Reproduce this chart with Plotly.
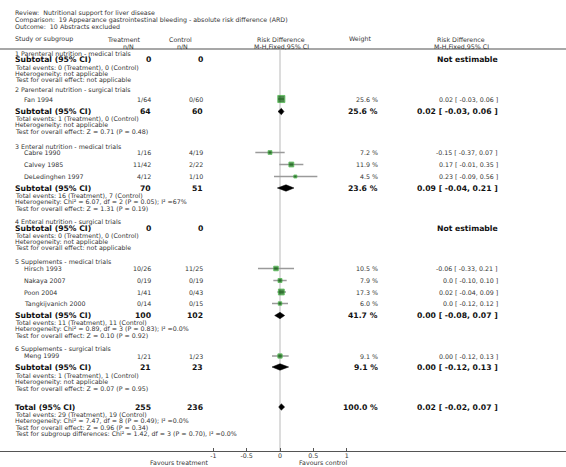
import plotly.graph_objects as go

# ---------------- data ----------------
review_text = "Review:  Nutritional support for liver disease"
comparison_text = "Comparison:  19 Appearance gastrointestinal bleeding - absolute risk difference (ARD)"
outcome_text = "Outcome:  10 Abstracts excluded"

subgroup_names = [
    "1 Parenteral nutrition - medical trials",
    "2 Parenteral nutrition - surgical trials",
    "3 Enteral nutrition - medical trials",
    "4 Enteral nutrition - surgical trials",
    "5 Supplements - medical trials",
    "6 Supplements - surgical trials",
]
subgroup_treat_total = [0, 64, 70, 0, 100, 21]
subgroup_ctrl_total = [0, 60, 51, 0, 102, 23]
subgroup_weight = [None, 25.6, 23.6, None, 41.7, 9.1]
subgroup_rd = [None, 0.02, 0.09, None, 0.00, 0.00]
subgroup_lo = [None, -0.03, -0.04, None, -0.08, -0.12]
subgroup_hi = [None, 0.06, 0.21, None, 0.07, 0.13]
subgroup_events = [
    "Total events: 0 (Treatment), 0 (Control)",
    "Total events: 1 (Treatment), 0 (Control)",
    "Total events: 16 (Treatment), 7 (Control)",
    "Total events: 0 (Treatment), 0 (Control)",
    "Total events: 11 (Treatment), 11 (Control)",
    "Total events: 1 (Treatment), 1 (Control)",
]
subgroup_heterogeneity = [
    "Heterogeneity: not applicable",
    "Heterogeneity: not applicable",
    "Heterogeneity: Chi² = 6.07, df = 2 (P = 0.05); I² =67%",
    "Heterogeneity: not applicable",
    "Heterogeneity: Chi² = 0.89, df = 3 (P = 0.83); I² =0.0%",
    "Heterogeneity: not applicable",
]
subgroup_overall = [
    "Test for overall effect: not applicable",
    "Test for overall effect: Z = 0.71 (P = 0.48)",
    "Test for overall effect: Z = 1.31 (P = 0.19)",
    "Test for overall effect: not applicable",
    "Test for overall effect: Z = 0.10 (P = 0.92)",
    "Test for overall effect: Z = 0.07 (P = 0.95)",
]

study_names = ["Fan 1994", "Cabre 1990", "Calvey 1985", "DeLedinghen 1997",
               "Hirsch 1993", "Nakaya 2007", "Poon 2004", "Tangkijvanich 2000",
               "Meng 1999"]
study_subgroup = [1, 2, 2, 2, 4, 4, 4, 4, 5]
study_treat = ["1/64", "1/16", "11/42", "4/12", "10/26", "0/19", "1/41", "0/14", "1/21"]
study_ctrl = ["0/60", "4/19", "2/22", "1/10", "11/25", "0/19", "0/43", "0/15", "1/23"]
study_weight = [25.6, 7.2, 11.9, 4.5, 10.5, 7.9, 17.3, 6.0, 9.1]
study_rd = [0.02, -0.15, 0.17, 0.23, -0.06, 0.0, 0.02, 0.0, 0.00]
study_rd_label = ["0.02", "-0.15", "0.17", "0.23", "-0.06", "0.0", "0.02", "0.0", "0.00"]
study_lo = [-0.03, -0.37, -0.01, -0.09, -0.33, -0.10, -0.04, -0.12, -0.12]
study_hi = [0.06, 0.07, 0.35, 0.56, 0.21, 0.10, 0.09, 0.12, 0.13]

total_label = "Total (95% CI)"
total_treat = 255
total_ctrl = 236
total_weight = 100.0
total_rd = 0.02
total_lo = -0.02
total_hi = 0.07
total_lines = [
    "Total events: 29 (Treatment), 19 (Control)",
    "Heterogeneity: Chi² = 7.47, df = 8 (P = 0.49); I² =0.0%",
    "Test for overall effect: Z = 0.96 (P = 0.34)",
    "Test for subgroup differences: Chi² = 1.42, df = 3 (P = 0.70), I² =0.0%",
]

axis_ticks = [-1, -0.5, 0, 0.5, 1]
axis_tick_labels = ["-1", "-0.5", "0", "0.5", "1"]
favours_left = "Favours treatment"
favours_right = "Favours control"

# ---------------- layout ----------------
W, H = 566, 467
PLOT_BOTTOM = 451
ZERO_PX = 280
PX_PER_UNIT = 66.7
X_RANGE = [-ZERO_PX / PX_PER_UNIT, (W - ZERO_PX) / PX_PER_UNIT]

FONT = "DejaVu Sans"
SMALL = 6.3
BOLD = 7.7
TXT = "#333333"
BTXT = "#111111"

X_LEFT = 13
X_STUDY = 22
X_TREAT_R = 153
X_CTRL_R = 205
X_FOREST_C = 281
X_WEIGHT_R = 380
X_EFFECT_R = 500

subgroup_title_y = [53, 89.5, 146, 221.5, 262, 349]
study_y = [99, 152.5, 164.5, 176.5, 268.5, 280.5, 292, 303.5, 356]
subtotal_y = [59.5, 111.5, 188, 228, 315.5, 367]
info_first_y = [67, 118.5, 195, 235, 322, 375]
total_y = 407
total_info_first_y = 414
INFO_STEP = 6.7
DIAMOND_HALF = 3.2

annotations = []


def txt(xp, yp, s, anchor="left", size=SMALL, bold=False, color=TXT, yref="y"):
    if bold:
        s = "<b>" + s + "</b>"
    annotations.append(dict(
        x=xp / W, xref="paper", y=yp, yref=yref, text=s, xanchor=anchor,
        yanchor="middle", showarrow=False,
        font=dict(family=FONT, size=size, color=color)))


def ci_text(est_label, lo, hi):
    return f"{est_label} [ {lo:.2f}, {hi:.2f} ]"


# header
txt(X_LEFT, 12.5, review_text)
txt(X_LEFT, 19.5, comparison_text)
txt(X_LEFT, 26.5, outcome_text)
txt(X_LEFT, 39, "Study or subgroup")
txt(124, 39, "Treatment", anchor="center")
txt(128, 46, "n/N", anchor="center")
txt(180, 39, "Control", anchor="center")
txt(182, 46, "n/N", anchor="center")
txt(X_FOREST_C, 39, "Risk Difference", anchor="center")
txt(X_FOREST_C, 46, "M-H,Fixed,95% CI", anchor="center")
txt(360, 39, "Weight", anchor="center")
txt(461, 39, "Risk Difference", anchor="center")
txt(461, 46, "M-H,Fixed,95% CI", anchor="center")

fig = go.Figure()

# subgroups
for g, name in enumerate(subgroup_names):
    txt(X_LEFT, subgroup_title_y[g], name)
    ys = subtotal_y[g]
    txt(X_LEFT, ys, "Subtotal (95% CI)", size=BOLD, bold=True, color=BTXT)
    txt(X_TREAT_R, ys, str(subgroup_treat_total[g]), anchor="right", size=BOLD, bold=True, color=BTXT)
    txt(X_CTRL_R, ys, str(subgroup_ctrl_total[g]), anchor="right", size=BOLD, bold=True, color=BTXT)
    if subgroup_rd[g] is None:
        txt(X_EFFECT_R, ys, "Not estimable", anchor="right", size=BOLD, bold=True, color=BTXT)
    else:
        txt(X_WEIGHT_R, ys, f"{subgroup_weight[g]:.1f} %", anchor="right", size=BOLD, bold=True, color=BTXT)
        txt(X_EFFECT_R, ys, ci_text(f"{subgroup_rd[g]:.2f}", subgroup_lo[g], subgroup_hi[g]),
            anchor="right", size=BOLD, bold=True, color=BTXT)
        fig.add_trace(go.Scatter(
            x=[subgroup_lo[g], subgroup_rd[g], subgroup_hi[g], subgroup_rd[g], subgroup_lo[g]],
            y=[ys, ys - DIAMOND_HALF, ys, ys + DIAMOND_HALF, ys],
            mode="lines", fill="toself", fillcolor="#000000",
            line=dict(color="#000000", width=0.5), hoverinfo="skip", showlegend=False))
    for k, line in enumerate([subgroup_events[g], subgroup_heterogeneity[g], subgroup_overall[g]]):
        txt(X_LEFT, info_first_y[g] + k * INFO_STEP, line)

# studies
ci_x, ci_y = [], []
for i, name in enumerate(study_names):
    y = study_y[i]
    txt(X_STUDY, y, name)
    txt(X_TREAT_R, y, study_treat[i], anchor="right")
    txt(X_CTRL_R, y, study_ctrl[i], anchor="right")
    txt(X_WEIGHT_R, y, f"{study_weight[i]:.1f} %", anchor="right")
    txt(X_EFFECT_R, y, ci_text(study_rd_label[i], study_lo[i], study_hi[i]), anchor="right")
    ci_x += [study_lo[i], study_hi[i], None]
    ci_y += [y, y, None]

fig.add_trace(go.Scatter(x=ci_x, y=ci_y, mode="lines",
                         line=dict(color="#9a9a9a", width=1.5),
                         hoverinfo="skip", showlegend=False))
fig.add_trace(go.Scatter(
    x=study_rd, y=study_y, mode="markers",
    marker=dict(symbol="square", size=[1.4 * w ** 0.5 for w in study_weight],
                color="#005a00", line=dict(color="#22a522", width=0.9)),
    hoverinfo="skip", showlegend=False))

# total
txt(X_LEFT, total_y, total_label, size=BOLD, bold=True, color=BTXT)
txt(X_TREAT_R, total_y, str(total_treat), anchor="right", size=BOLD, bold=True, color=BTXT)
txt(X_CTRL_R, total_y, str(total_ctrl), anchor="right", size=BOLD, bold=True, color=BTXT)
txt(X_WEIGHT_R, total_y, f"{total_weight:.1f} %", anchor="right", size=BOLD, bold=True, color=BTXT)
txt(X_EFFECT_R, total_y, ci_text(f"{total_rd:.2f}", total_lo, total_hi), anchor="right",
    size=BOLD, bold=True, color=BTXT)
fig.add_trace(go.Scatter(
    x=[total_lo, total_rd, total_hi, total_rd, total_lo],
    y=[total_y, total_y - DIAMOND_HALF, total_y, total_y + DIAMOND_HALF, total_y],
    mode="lines", fill="toself", fillcolor="#000000",
    line=dict(color="#000000", width=0.5), hoverinfo="skip", showlegend=False))
for k, line in enumerate(total_lines):
    txt(X_LEFT, total_info_first_y + k * INFO_STEP, line)

# favours labels
fav_y = (PLOT_BOTTOM - 462.5) / PLOT_BOTTOM
txt(210, fav_y, favours_left, anchor="right", yref="paper")
txt(297, fav_y, favours_right, anchor="left", yref="paper")

shapes = [
    # header separator
    dict(type="line", xref="paper", yref="y", x0=0, x1=1, y0=49, y1=49,
         line=dict(color="#8a8a8a", width=1.5)),
    # zero line
    dict(type="line", xref="x", yref="y", x0=0, x1=0, y0=50, y1=PLOT_BOTTOM,
         line=dict(color="#dcdcdc", width=2), layer="below"),
]

fig.update_layout(
    width=W, height=H,
    margin=dict(l=0, r=0, t=0, b=H - PLOT_BOTTOM, pad=0),
    paper_bgcolor="white", plot_bgcolor="white",
    annotations=annotations, shapes=shapes,
    xaxis=dict(range=X_RANGE, tickvals=axis_ticks, ticktext=axis_tick_labels,
               showgrid=False, zeroline=False, showline=True, linecolor="#555555",
               linewidth=1, ticks="inside", ticklen=3, tickcolor="#555555",
               ticklabelstandoff=-2,
               tickfont=dict(family=FONT, size=SMALL, color=TXT), fixedrange=True),
    yaxis=dict(range=[PLOT_BOTTOM, 0], visible=False, fixedrange=True),
    showlegend=False,
)

fig.write_html("out.html", config={"displayModeBar": False, "staticPlot": True},
               post_script="document.body.style.margin='0';document.body.style.overflow='hidden';")
